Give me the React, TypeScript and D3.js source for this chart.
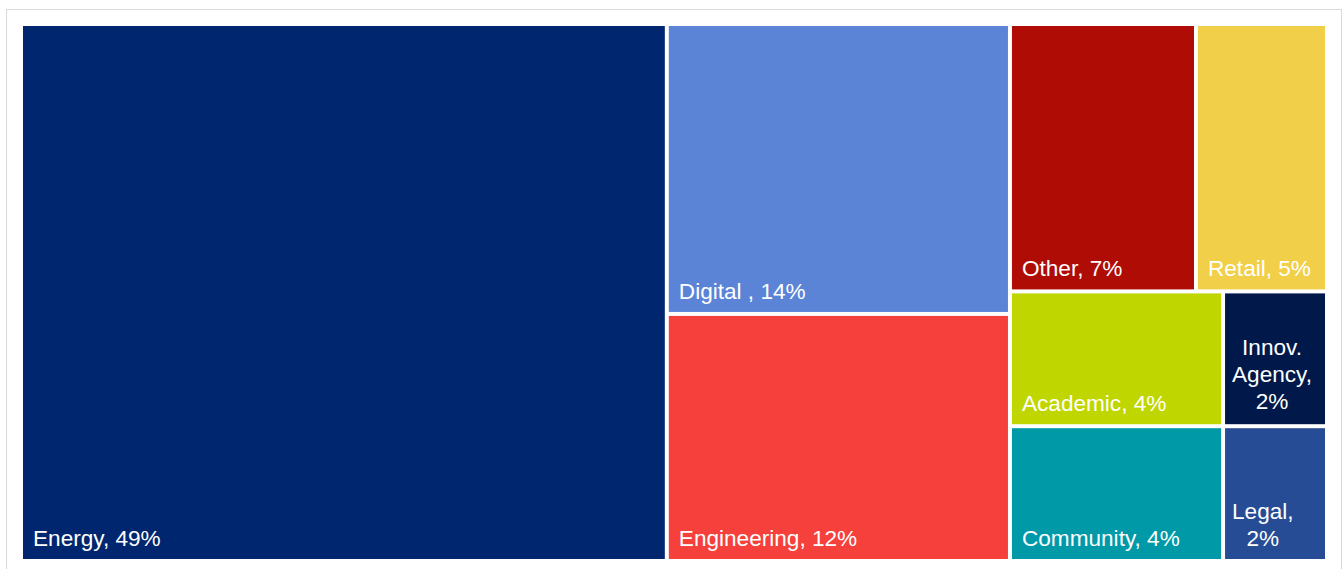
import React from "react";
import * as d3 from "d3";

const categories = ["Energy", "Digital ", "Engineering", "Other", "Retail", "Academic", "Innov. Agency", "Community", "Legal"];
const shares = [49.5, 14.2, 12.1, 7.1, 5.0, 4.1, 2.0, 4.1, 2.0];
const pctLabels = ["49%", "14%", "12%", "7%", "5%", "4%", "2%", "4%", "2%"];
const columnOf = [0, 1, 1, 2, 2, 2, 2, 2, 2];
const rowOf = [0, 0, 1, 0, 0, 1, 1, 2, 2];
const colors = ["#00266F", "#5B84D6", "#F5403B", "#AE0C05", "#F2CF48", "#BFD600", "#00194A", "#0099A7", "#264C95"];

const W = 1343;
const H = 569;
const FS = 22.6;
const FONT = `${FS}px 'Liberation Sans', Arial, sans-serif`;

let ctx: CanvasRenderingContext2D | null = null;
function measure(s: string): number {
  if (!ctx) {
    const c = document.createElement("canvas");
    ctx = c.getContext("2d");
  }
  if (!ctx) return s.length * 11;
  ctx.font = FONT;
  return ctx.measureText(s).width;
}

function wrap(text: string, avail: number): string[] {
  const words = text.split(" ").filter((w) => w.length > 0);
  const lines: string[] = [];
  let cur = "";
  for (const w of words) {
    const trial = cur ? cur + " " + w : w;
    if (!cur || measure(trial) <= avail) cur = trial;
    else {
      lines.push(cur);
      cur = w;
    }
  }
  if (cur) lines.push(cur);
  return lines;
}

export default function App() {
  const rootData: any = { name: "root", children: [] };
  categories.forEach((cat, i) => {
    const c = columnOf[i];
    const r = rowOf[i];
    let col = rootData.children[c];
    if (!col) col = rootData.children[c] = { name: "col" + c, children: [] };
    let row = col.children[r];
    if (!row) row = col.children[r] = { name: "row" + c + r, children: [] };
    row.children.push({ name: cat, value: shares[i], idx: i });
  });
  const data: any = { name: "root", children: [] };
  data.children = rootData.children.map((col: any) => {
    if (col.children.length === 1 && col.children[0].children.length === 1) return col.children[0].children[0];
    if (col.children.every((r: any) => r.children.length === 1)) {
      return { ...col, children: col.children.map((r: any) => r.children[0]) };
    }
    return col;
  });

  const x0 = 23, y0 = 26, x1 = 1325, y1 = 559;
  const root = d3.hierarchy(data).sum((d: any) => (d.children ? 0 : d.value));
  d3.treemap<any>()
    .tile(d3.treemapSliceDice)
    .size([x1 - x0, y1 - y0])
    .paddingInner(4)
    .round(false)(root);

  const leaves = root.leaves() as any[];

  return (
    <svg
      width={W}
      height={H}
      style={{ position: "absolute", left: 0, top: 0, display: "block" }}
      fontFamily="'Liberation Sans', Arial, sans-serif"
    >
      <rect x={0} y={0} width={W} height={H} fill="#ffffff" />
      <rect x={6.5} y={9.5} width={1335} height={620} fill="none" stroke="#d9d9d9" strokeWidth={1} />
      <g transform={`translate(${x0},${y0})`}>
        {leaves.map((lf) => {
          const i = lf.data.idx;
          const w = lf.x1 - lf.x0;
          const label = `${categories[i]}, ${pctLabels[i]}`;
          const lines = wrap(label, w - 14);
          const multi = lines.length > 1;
          const lh = 27;
          const lastBase = lf.y1 - (lines.length > 2 ? 15 : 13);
          const blockW = Math.max(...lines.map(measure));
          const tx = multi ? lf.x0 + 7 + blockW / 2 : lf.x0 + 10;
          return (
            <g key={i}>
              <rect x={lf.x0} y={lf.y0} width={w} height={lf.y1 - lf.y0} fill={colors[i]} />
              <text fill="#ffffff" fontSize={FS} textAnchor={multi ? "middle" : "start"}>
                {lines.map((ln, k) => (
                  <tspan key={k} x={tx} y={lastBase - (lines.length - 1 - k) * lh}>
                    {ln}
                  </tspan>
                ))}
              </text>
            </g>
          );
        })}
      </g>
    </svg>
  );
}
